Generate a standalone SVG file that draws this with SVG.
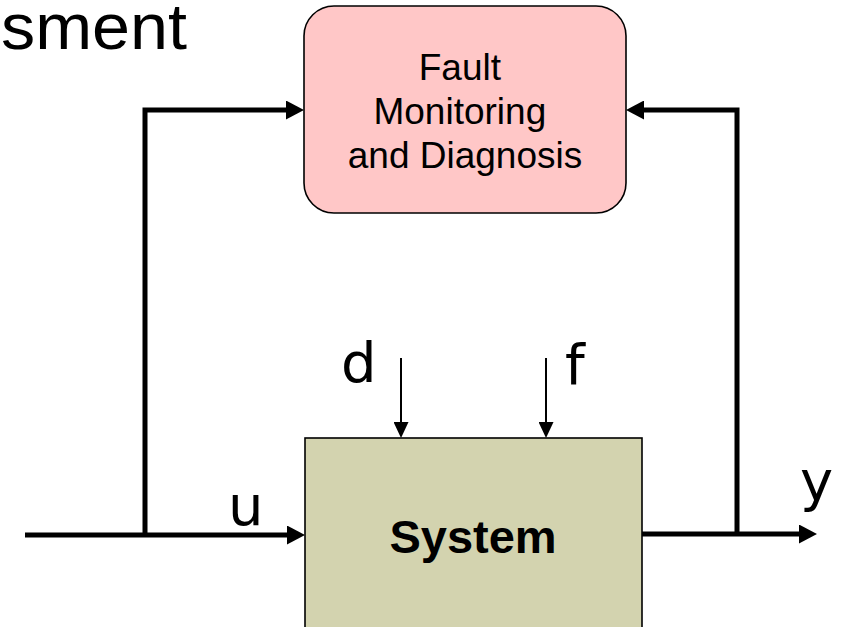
<svg xmlns="http://www.w3.org/2000/svg" width="846" height="627" viewBox="0 0 846 627">
  <style>
    .box { stroke: #000; stroke-width: 1.6; }
    .title { font-family: "Liberation Sans", Arial, sans-serif; fill: #000; }
    .sig { font-family: "Comic Sans MS", "DejaVu Sans", sans-serif; font-size: 56px; fill: #000; }
    .thick { fill: none; stroke: #000; stroke-width: 5; stroke-linejoin: miter; marker-end: url(#headBig); }
    .thin { fill: none; stroke: #000; stroke-width: 2; marker-end: url(#headSmall); }
  </style>
  <defs>
    <marker id="headBig" markerUnits="userSpaceOnUse" markerWidth="18" markerHeight="19" viewBox="0 0 18 19" refX="0" refY="9.5" orient="auto">
      <path d="M0,0 L18,9.5 L0,19 z" fill="#000"/>
    </marker>
    <marker id="headSmall" markerUnits="userSpaceOnUse" markerWidth="16" markerHeight="15" viewBox="0 0 16 15" refX="0" refY="7.5" orient="auto">
      <path d="M0,0 L16,7.5 L0,15 z" fill="#000"/>
    </marker>
  </defs>

  <rect width="846" height="627" fill="#fff"/>

  <!-- slide heading fragment -->
  <text class="title" x="1" y="49" font-size="64" textLength="186" lengthAdjust="spacingAndGlyphs">sment</text>

  <!-- signal lines -->
  <g id="connectors">
    <path class="thick" d="M25,535 H287"/>
    <path class="thick" d="M145,535 V110 H286"/>
    <path class="thick" d="M642,534 H799"/>
    <path class="thick" d="M737,534 V110 H644"/>
    <path class="thin" d="M401,358 V422"/>
    <path class="thin" d="M546,358 V422"/>
  </g>

  <g id="fdi">
    <rect class="box" x="304" y="6" width="322" height="207" rx="30" ry="30" fill="#FFC7C7"/>
    <text class="title" font-size="37" text-anchor="middle">
      <tspan x="465" y="80">Fault</tspan>
      <tspan x="465" y="124">Monitoring</tspan>
      <tspan x="465" y="168">and Diagnosis</tspan>
    </text>
  </g>

  <g id="system">
    <rect class="box" x="305" y="438" width="337" height="200" fill="#D3D3AF"/>
    <text class="title" x="473" y="553" font-size="47" font-weight="bold" text-anchor="middle">System</text>
  </g>

  <g id="labels">
    <text class="sig" x="341" y="382">d</text>
    <text class="sig" x="565" y="384">f</text>
    <text class="sig" x="228" y="525">u</text>
    <text class="sig" x="800" y="500">y</text>
  </g>
</svg>
